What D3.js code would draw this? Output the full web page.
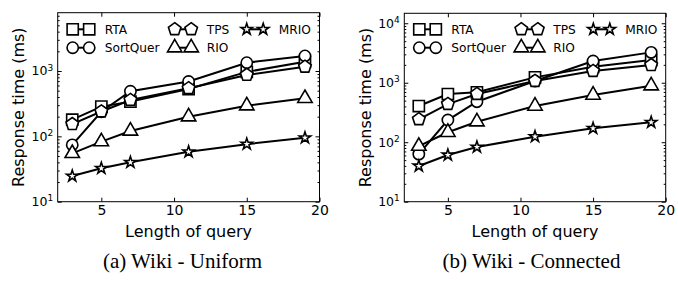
<!DOCTYPE html>
<html>
<head>
<meta charset="utf-8">
<script src="https://cdn.jsdelivr.net/npm/d3@7/dist/d3.min.js"></script>
<style>
  body { margin: 0; background: #fff; }
  text { font-family: "DejaVu Sans", sans-serif; fill: #000; }
  .caption { font-family: "Liberation Serif", serif; }
</style>
</head>
<body>
<svg id="fig" width="678" height="282"></svg>
<script>
// query lengths (x axis)
const lengths = [3, 5, 7, 11, 15, 19]
const seriesNames = ['RTA', 'SortQuer', 'TPS', 'RIO', 'MRIO']
const xTicks = [5, 10, 15, 20]

// (a) Wiki - Uniform, response time in ms
const uniformRTA      = [180, 285, 340, 530, 970, 1380]
const uniformSortQuer = [74, 238, 490, 690, 1340, 1700]
const uniformTPS      = [154, 240, 360, 545, 870, 1160]
const uniformRIO      = [55, 83, 121, 200, 294, 382]
const uniformMRIO     = [24.7, 32.4, 40, 58, 76, 95]

// (b) Wiki - Connected
const connectedRTA      = [406, 646, 690, 1230, 1850, 2410]
const connectedSortQuer = [63, 236, 480, 1069, 2317, 3240]
const connectedTPS      = [243, 438, 646, 1069, 1573, 1980]
const connectedRIO      = [86, 147, 221, 406, 621, 891]
const connectedMRIO     = [39.8, 61, 83, 124, 171, 216]

const svg = d3.select('#fig')
svg.append('rect').attr('width', 678).attr('height', 282).attr('fill', '#fff')

// pentagon marker like matplotlib 'p'
function pentagon(r) {
  const pts = d3.range(5).map(i => {
    const a = -Math.PI / 2 + i * 2 * Math.PI / 5
    return [r * Math.cos(a), r * Math.sin(a)]
  })
  return 'M' + pts.map(p => p.join(',')).join('L') + 'Z'
}

const markerPath = {
  RTA: d3.symbol(d3.symbolSquare, 125)(),
  SortQuer: d3.symbol(d3.symbolCircle, 100)(),
  TPS: pentagon(6.6),
  RIO: d3.symbol(d3.symbolTriangle, 90)(),
  MRIO: d3.symbol(d3.symbolStar, 40)()
}

function drawPanel(cfg) {
  const g = svg.append('g')
  const x = d3.scaleLinear().domain([2, 20]).range([cfg.left, cfg.right])
  const y = d3.scaleLog().domain([10, cfg.yMax]).range([cfg.bottom, cfg.top])

  const majors = y.ticks().filter(v => Math.abs(Math.log10(v) % 1) < 1e-9)
  const minors = []
  for (let e = 1; e < 5; e++) {
    for (let m = 2; m <= 9; m++) {
      const v = m * Math.pow(10, e)
      if (v < cfg.yMax) minors.push(v)
    }
  }

  // y axes (left with labels, right ticks only)
  const yLeft = g.append('g').attr('transform', `translate(${cfg.left},0)`)
    .call(d3.axisLeft(y).tickValues(majors).tickSize(-4).tickPadding(4.5).tickFormat(''))
  g.append('g').attr('transform', `translate(${cfg.left},0)`)
    .call(d3.axisLeft(y).tickValues(minors).tickSize(-2).tickFormat(''))
  g.append('g').attr('transform', `translate(${cfg.right},0)`)
    .call(d3.axisRight(y).tickValues(majors).tickSize(-4).tickFormat(''))
  g.append('g').attr('transform', `translate(${cfg.right},0)`)
    .call(d3.axisRight(y).tickValues(minors).tickSize(-2).tickFormat(''))

  // superscript labels 10^n
  yLeft.selectAll('.tick text').each(function(d) {
    const t = d3.select(this).attr('font-size', 12.5).attr('font-family', 'DejaVu Sans')
    t.append('tspan').text('10')
    t.append('tspan').attr('font-size', 9).attr('dy', '-0.55em').text(Math.round(Math.log10(d)))
  })

  // x axes
  g.append('g').attr('transform', `translate(0,${cfg.bottom})`)
    .call(d3.axisBottom(x).tickValues(xTicks).tickSize(-4).tickPadding(3.5))
    .selectAll('.tick text').attr('font-size', 14).attr('font-family', 'DejaVu Sans')
  g.append('g').attr('transform', `translate(0,${cfg.top})`)
    .call(d3.axisTop(x).tickValues(xTicks).tickSize(-4).tickFormat(''))

  g.selectAll('.domain').remove()
  g.selectAll('.tick line').attr('stroke', '#000').attr('stroke-width', 1)

  // frame
  g.append('rect')
    .attr('x', cfg.left).attr('y', cfg.top)
    .attr('width', cfg.right - cfg.left).attr('height', cfg.bottom - cfg.top)
    .attr('fill', 'none').attr('stroke', '#000').attr('stroke-width', 1)

  // series
  const line = d3.line().x(d => x(d[0])).y(d => y(d[1]))
  cfg.series.forEach((vals, i) => {
    const name = seriesNames[i]
    const pts = lengths.map((l, j) => [l, vals[j]])
    const sg = g.append('g')
    sg.append('path').attr('d', line(pts))
      .attr('fill', 'none').attr('stroke', '#000').attr('stroke-width', 2)
    sg.selectAll('path.mk').data(pts).join('path').attr('class', 'mk')
      .attr('d', markerPath[name])
      .attr('transform', d => `translate(${x(d[0])},${y(d[1])})`)
      .attr('fill', '#fff').attr('stroke', '#000').attr('stroke-width', 1.6)
  })

  // legend: 3 columns, 2 rows, filled column by column
  const colX = [15, 117, 189]
  const rowY = [29.3, 47.7]
  seriesNames.forEach((name, i) => {
    const cx = cfg.left + colX[Math.floor(i / 2)]
    const cy = rowY[i % 2]
    const lg = g.append('g')
    lg.append('line').attr('x1', cx).attr('x2', cx + 16.5).attr('y1', cy).attr('y2', cy)
      .attr('stroke', '#000').attr('stroke-width', 2)
    ;[cx, cx + 16.5].forEach(mx => {
      lg.append('path').attr('d', markerPath[name])
        .attr('transform', `translate(${mx},${cy})`)
        .attr('fill', '#fff').attr('stroke', '#000').attr('stroke-width', 1.6)
    })
    lg.append('text').attr('x', cx + 32).attr('y', cy).attr('dy', '0.36em')
      .attr('font-size', 12.2).text(name)
  })

  // axis titles
  g.append('text')
    .attr('transform', `translate(${cfg.left - 33.3},${(cfg.top + cfg.bottom) / 2}) rotate(-90)`)
    .attr('text-anchor', 'middle').attr('font-size', 16).text('Response time (ms)')
  g.append('text')
    .attr('x', (cfg.left + cfg.right) / 2).attr('y', 237)
    .attr('text-anchor', 'middle').attr('font-size', 16).text('Length of query')

  g.append('text').attr('class', 'caption')
    .attr('x', cfg.captionX).attr('y', 268)
    .attr('text-anchor', 'middle').attr('font-size', 21).text(cfg.caption)
}

drawPanel({
  left: 57.7, right: 319.5, top: 12.7, bottom: 201.7, yMax: 7800,
  series: [uniformRTA, uniformSortQuer, uniformTPS, uniformRIO, uniformMRIO],
  caption: '(a) Wiki - Uniform', captionX: 182.5
})
drawPanel({
  left: 404.3, right: 665.7, top: 13.3, bottom: 201.7, yMax: 14700,
  series: [connectedRTA, connectedSortQuer, connectedTPS, connectedRIO, connectedMRIO],
  caption: '(b) Wiki - Connected', captionX: 531.5
})
</script>
</body>
</html>
